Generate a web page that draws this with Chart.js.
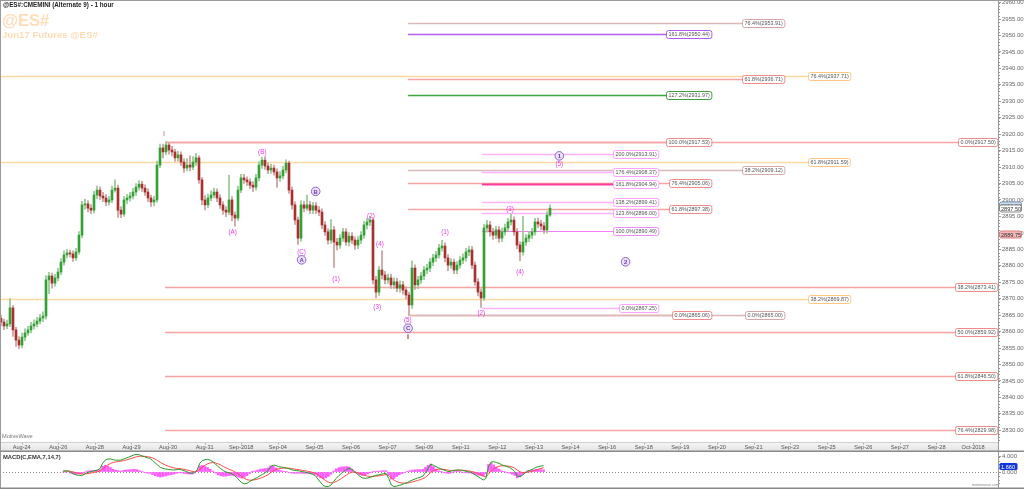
<!DOCTYPE html>
<html><head><meta charset="utf-8">
<script src="https://cdn.jsdelivr.net/npm/chart.js@4.4.0/dist/chart.umd.min.js"></script>
<style>
html,body{margin:0;padding:0;background:#fff;overflow:hidden;}
#wrap{position:relative;width:1024px;height:489px;}
#c1{position:absolute;left:0;top:0;}
#c2{position:absolute;left:0;top:452px;}
.t{position:absolute;white-space:nowrap;font-family:"Liberation Sans",Arial,sans-serif;line-height:1;}
</style></head><body>
<div id="wrap">
<canvas id="c1" width="1024" height="452"></canvas>
<canvas id="c2" width="1024" height="37"></canvas>
<div class="t" style="left:3px;top:2px;font-weight:bold;font-size:6.3px;color:#222">@ES#:CMEMINI (Alternate 9) - 1 hour</div>
<div class="t" style="left:2px;top:12px;font-weight:bold;font-size:16.5px;color:#ffdcb6">@ES#</div>
<div class="t" style="left:2px;top:30px;font-weight:bold;font-size:9.6px;color:#ffdcb6">Jun17 Futures @ES#</div>
<div class="t" style="left:2px;top:434px;font-size:5.6px;color:#777">MotiveWave</div>
<div class="t" style="left:3px;top:455px;font-weight:bold;font-size:5.8px;color:#333">MACD(C,EMA,7,14,7)</div>
<div class="t" style="left:972px;top:484px;font-size:3.6px;color:#888">motivewave.com</div>
</div>
<script>
// ---------------- DATA ----------------
const dateLabels = ["Aug-24","Aug-26","Aug-28","Aug-29","Aug-30","Aug-31","Sep-2018","Sep-04","Sep-05","Sep-06","Sep-07","Sep-09","Sep-11","Sep-12","Sep-13","Sep-14","Sep-16","Sep-18","Sep-19","Sep-20","Sep-21","Sep-23","Sep-25","Sep-26","Sep-27","Sep-28","Oct-2018"];
const sessionStart = 6.9;      // bar index of first date label
const barsPerSession = 12.197; // bars between date labels

const firstOpen = 2864.0;
const closes = [2862.9,2861.7,2862.3,2867.2,2860.5,2857.4,2855.9,2858.3,2859.6,2860.5,
2861.7,2862.3,2863.2,2864.1,2864.7,2875.7,2876.9,2874.7,2876.3,2878.1,
2881.1,2883.3,2883.9,2883.6,2882.4,2884.2,2889.3,2898.5,2898.8,2897.5,
2896.9,2901.5,2903.0,2901.2,2900.6,2899.4,2900.0,2903.0,2903.6,2896.9,
2895.7,2900.0,2900.6,2901.2,2902.4,2903.9,2904.8,2903.6,2902.4,2900.6,
2899.4,2900.0,2910.6,2915.8,2914.6,2916.7,2915.2,2914.6,2912.8,2913.7,
2911.5,2909.7,2910.6,2910.0,2911.5,2912.8,2906.1,2900.0,2898.5,2900.6,
2901.5,2902.4,2900.6,2898.5,2896.9,2896.3,2900.0,2895.4,2894.5,2903.0,
2906.7,2906.1,2905.5,2904.5,2903.9,2906.7,2910.6,2912.1,2910.3,2909.1,
2909.7,2908.5,2906.7,2907.3,2909.1,2911.2,2903.0,2898.5,2893.9,2888.4,
2898.5,2897.5,2898.5,2896.9,2898.2,2896.9,2896.3,2892.4,2890.3,2887.8,
2890.9,2887.2,2886.3,2888.4,2890.3,2887.2,2889.0,2887.8,2886.3,2887.8,
2889.3,2892.4,2893.3,2893.9,2875.7,2872.0,2878.7,2877.2,2875.7,2876.3,
2874.2,2875.1,2873.2,2874.2,2872.6,2871.1,2868.1,2879.3,2874.2,2875.7,
2876.9,2878.7,2879.3,2881.1,2882.4,2883.3,2885.4,2886.0,2882.4,2880.2,
2881.1,2878.7,2880.2,2881.7,2882.4,2884.2,2884.8,2880.2,2875.1,2872.0,
2870.2,2891.5,2892.4,2890.3,2889.3,2890.9,2888.4,2890.3,2891.5,2893.3,
2893.9,2890.3,2886.3,2884.2,2887.2,2888.4,2889.3,2890.3,2893.3,2892.7,
2892.1,2890.9,2895.4,2897.5];
const highs = [2865.0,2863.8,2863.5,2870.0,2868.0,2861.3,2858.5,2859.5,2860.8,2861.6,
2862.8,2863.6,2864.3,2865.2,2866.0,2877.0,2878.0,2877.8,2877.4,2879.2,
2882.2,2884.5,2885.0,2884.8,2884.5,2885.3,2890.4,2899.6,2900.3,2899.8,
2898.6,2902.6,2904.2,2904.0,2902.3,2901.6,2901.1,2904.2,2906.1,2904.5,
2898.0,2901.1,2901.7,2902.3,2903.5,2905.0,2905.9,2905.7,2904.6,2903.4,
2901.5,2901.2,2911.8,2917.0,2917.0,2917.7,2917.3,2916.3,2915.5,2914.8,
2914.6,2912.5,2912.6,2913.4,2913.2,2914.2,2913.5,2906.8,2901.3,2901.8,
2902.8,2903.6,2903.4,2901.6,2899.5,2898.0,2907.5,2901.0,2896.4,2904.2,
2907.8,2907.8,2907.0,2906.4,2905.6,2907.8,2911.7,2913.0,2913.2,2911.3,
2910.9,2910.6,2909.5,2908.6,2910.2,2912.2,2911.8,2904.0,2899.4,2894.8,
2899.7,2899.6,2901.5,2899.6,2899.3,2899.2,2898.0,2897.3,2893.4,2891.2,
2894.0,2892.0,2888.3,2889.5,2891.4,2891.3,2890.1,2890.1,2888.8,2888.9,
2890.4,2893.5,2894.4,2895.0,2894.6,2876.8,2879.8,2884.5,2878.3,2877.5,
2877.4,2876.3,2876.2,2875.4,2875.3,2873.6,2872.0,2881.5,2880.3,2876.8,
2878.0,2879.8,2880.4,2882.2,2883.5,2884.4,2886.5,2887.7,2887.0,2883.4,
2882.2,2882.0,2881.3,2882.8,2883.6,2885.3,2885.9,2885.8,2881.2,2876.1,
2873.0,2892.6,2893.8,2893.5,2891.4,2892.0,2891.9,2891.5,2892.7,2894.4,
2895.8,2894.9,2891.3,2887.3,2895.0,2889.5,2890.4,2891.4,2894.4,2894.5,
2893.8,2893.2,2896.5,2898.5];
const lows = [2861.8,2860.6,2860.8,2861.5,2858.5,2855.5,2854.8,2855.0,2857.2,2858.8,
2859.6,2860.8,2861.4,2862.3,2863.0,2863.8,2871.5,2873.2,2873.8,2875.4,
2877.3,2880.2,2882.4,2882.6,2881.3,2881.6,2883.5,2888.5,2897.2,2896.4,
2895.8,2896.0,2900.4,2900.2,2899.5,2898.3,2898.4,2899.2,2902.4,2894.7,
2894.6,2895.0,2898.9,2899.6,2900.3,2901.4,2903.0,2902.6,2901.4,2899.5,
2898.0,2898.2,2899.3,2909.8,2912.8,2913.8,2913.9,2913.4,2911.7,2911.8,
2910.4,2908.4,2908.8,2908.8,2909.2,2910.5,2905.0,2898.6,2897.0,2897.6,
2899.8,2900.6,2899.5,2897.4,2895.6,2894.9,2895.5,2893.6,2892.0,2893.8,
2902.2,2905.0,2904.4,2903.4,2902.5,2903.0,2905.8,2909.6,2909.3,2908.0,
2908.1,2907.5,2903.8,2905.6,2906.4,2908.2,2902.0,2897.2,2892.6,2886.5,
2887.5,2896.4,2896.8,2895.8,2895.8,2895.8,2895.2,2891.3,2889.2,2886.6,
2886.8,2879.5,2884.8,2885.3,2887.4,2886.2,2886.0,2886.7,2885.0,2885.2,
2886.7,2888.3,2891.2,2892.2,2874.5,2870.2,2871.0,2876.0,2874.5,2874.6,
2873.1,2873.1,2872.1,2872.0,2871.4,2869.9,2865.1,2867.0,2872.8,2873.0,
2874.6,2875.8,2877.6,2878.2,2880.0,2881.3,2882.3,2884.4,2881.2,2878.5,
2879.2,2877.6,2877.6,2879.3,2880.6,2881.4,2883.1,2879.1,2874.0,2870.8,
2867.3,2869.5,2890.2,2889.0,2888.0,2888.2,2887.2,2887.3,2889.3,2890.5,
2892.3,2889.2,2885.2,2881.5,2883.2,2886.2,2887.3,2888.2,2889.3,2891.6,
2891.0,2889.8,2890.0,2895.0];

// MACD line values (one per bar)
const macdValues = [0.26,0.26,0.26,-0.17,-0.52,-0.78,-0.87,-0.96,-0.6,-0.17,
0.0,0.17,0.35,0.52,0.87,2.27,3.1,3.4,3.4,3.2,
3.1,3.1,3.1,3.4,3.66,3.9,4.2,4.5,4.6,4.5,
4.2,4.0,3.7,3.6,3.0,2.4,1.8,1.2,0.96,0.78,
0.7,0.6,0.52,0.6,0.7,0.6,0.35,0.09,-0.17,-0.35,
-0.17,0.52,2.27,3.0,3.2,3.3,3.1,2.7,2.1,1.4,
0.87,0.35,0.0,-0.17,-0.35,-0.78,-1.4,-2.1,-2.8,-3.1,
-2.96,-2.5,-2.1,-1.74,-1.4,-0.96,-0.6,-0.17,0.35,1.4,
1.8,1.7,1.4,1.3,1.2,1.05,0.87,0.6,0.44,0.35,
0.26,0.09,0.0,-0.17,-0.35,-0.6,-0.96,-1.83,-2.7,-3.5,
-3.8,-3.8,-3.4,-2.5,-1.65,-0.96,-0.35,0.17,0.7,0.96,
0.7,0.09,-0.52,-1.13,-1.57,-1.65,-1.57,-1.4,-1.13,-0.87,
-0.78,-0.6,-0.43,-0.35,-1.65,-3.4,-3.8,-3.7,-3.5,-3.3,
-3.0,-2.8,-2.4,-2.1,-1.83,-1.57,-1.4,-1.05,-0.17,0.96,
2.0,1.8,1.4,1.05,0.78,0.52,0.26,0.09,0.26,0.44,
0.52,0.52,0.44,0.26,0.09,0.0,-0.35,-0.78,-1.2,-1.65,
-2.1,-1.65,1.4,2.6,2.7,2.5,2.27,1.9,1.66,1.4,
1.22,0.7,0.09,-1.05,-1.2,-0.78,-0.17,0.26,0.52,0.78,
1.22,1.4,1.57,1.66];
const signalPeriod = 7;

// Fibonacci levels
const fibValues = [2953.91,2950.44,2937.71,2936.71,2931.97,2917.53,2917.50,2913.91,2911.59,2909.12,2908.37,2905.06,2904.94,2899.41,2897.38,2896.00,2890.49,2873.41,2869.87,2867.25,2865.06,2865.00,2859.92,2846.50,2829.98];
const fibPct    = ["76.4%","161.8%","76.4%","61.8%","127.2%","100.0%","0.0%","200.0%","61.8%","38.2%","176.4%","76.4%","161.8%","138.2%","61.8%","123.6%","100.0%","38.2%","38.2%","0.0%","0.0%","0.0%","50.0%","61.8%","76.4%"];
const fibFrom   = ["C","C","start","C","C","I","I","W2","start","C","W2","C","W2","W2","C","W2","W2","I","start","W2","C","C","I","I","I"];
const fibTo     = ["c3","c2","c4","c3","c2","c2","edge","c1","c4","c3","c1","c2","c1","c1","c2","c1","c1","edge","c4","c1","c2","c3","edge","edge","edge"];
const fibKind   = ["rosy","purple","orange","red","green","red","red","pink","orange","rosy","pink","red","hot","pink","red","pink","magenta","red","orange","pink","red","rosy","red","red","red"];
// time anchors (bar index)
const anchors = {start:-0.3333, I:54.7, C:135.7, W2:160.3};
const columns = {c1:219.0, c2:236.7, c3:261.1, c4:283.0, edge:332.3333};

// Wave labels
const waveText  = ["i","(B)","(A)","(C)","A","B","(1)","(2)","(4)","(3)","(5)","C","ii","(1)","(2)","(3)","(4)","1","(5)","2"];
const waveBar   = [54.3,87.1,77.2,100.2,100.2,104.9,111.7,123.3,126.3,125.4,135.6,135.7,135.7,148.0,160.1,169.7,173.0,186.1,186.1,208.2];
const wavePrice = [2920.0,2914.6,2890.3,2884.0,2881.8,2902.6,2876.0,2894.9,2886.6,2867.4,2863.3,2861.0,2858.4,2890.3,2865.5,2897.3,2878.0,2913.4,2910.8,2881.2];
const waveKind  = ["roman","paren","paren","paren","circ","circ","paren","paren","paren","paren","paren","circ","roman","paren","paren","paren","paren","circ","paren","circ"];

const priceMarkers = [2898.50, 2889.75];
const yTicks = [];
for (let v = 2830; v <= 2960; v += 5) yTicks.push(v);

// ---------------- STYLES ----------------
const X_MIN = -0.3333, X_MAX = 332.3333;
const Y_MIN = 2826.43, Y_MAX = 2960.78;
const fibStyle = {
  red:{line:'#f7a3a3',box:'#f08a8a',w:1.5},
  rosy:{line:'#dcb8b8',box:'#d4a8a8',w:1.5},
  orange:{line:'#ffd9a3',box:'#ffc880',w:1.5},
  pink:{line:'#ffb3ff',box:'#ffa0ff',w:1.5},
  magenta:{line:'#f47ef4',box:'#f08cf0',w:1.2},
  hot:{line:'#ff3c9c',box:'#ffa0ff',w:2},
  purple:{line:'#b65cf2',box:'#b05ceb',w:1.5},
  green:{line:'#3fa53f',box:'#3f9f3f',w:1.5}
};
const FONT = '"Liberation Sans", Arial, sans-serif';

const opens = closes.map((c, i) => i === 0 ? firstOpen : closes[i - 1]);
const up = closes.map((c, i) => c >= opens[i]);

// ---------------- MAIN PLUGIN ----------------
const mainDeco = {
  id: 'mainDeco',
  beforeDraw(chart) {
    const {ctx, chartArea: a} = chart;
    ctx.save();
    const g = ctx.createLinearGradient(0, a.bottom, 0, a.bottom + 10);
    g.addColorStop(0, '#f6f6f6'); g.addColorStop(1, '#e2e2e2');
    ctx.fillStyle = g;
    ctx.fillRect(a.left, a.bottom, a.right - a.left, 10);
    ctx.strokeStyle = '#d0d0d0'; ctx.lineWidth = 1;
    ctx.beginPath(); ctx.moveTo(a.left, a.bottom + 0.5); ctx.lineTo(a.right, a.bottom + 0.5); ctx.stroke();
    ctx.restore();
  },
  beforeDatasetsDraw(chart) {
    const {ctx, chartArea: a, scales: {x, y}} = chart;
    ctx.save();
    ctx.beginPath(); ctx.rect(a.left, a.top, a.right - a.left, a.bottom - a.top); ctx.clip();
    fibValues.forEach((v, i) => {
      const st = fibStyle[fibKind[i]];
      const py = Math.round(y.getPixelForValue(v)) + 0.5;
      const x0 = x.getPixelForValue(anchors[fibFrom[i]]);
      const x1 = x.getPixelForValue(columns[fibTo[i]]);
      ctx.strokeStyle = st.line; ctx.lineWidth = st.w;
      ctx.beginPath(); ctx.moveTo(x0, py); ctx.lineTo(x1, py); ctx.stroke();
    });
    ctx.restore();
  },
  afterDatasetsDraw(chart) {
    const {ctx, chartArea: a, scales: {x, y}} = chart;
    ctx.save();
    // fib label boxes
    ctx.font = '5.4px ' + FONT;
    ctx.textBaseline = 'middle';
    fibValues.forEach((v, i) => {
      const st = fibStyle[fibKind[i]];
      const txt = fibPct[i] + '(' + v.toFixed(2) + ')';
      const py = Math.round(y.getPixelForValue(v)) + 0.5;
      let xr = x.getPixelForValue(columns[fibTo[i]]);
      if (xr > a.right - 1) xr = a.right - 1;
      const w = ctx.measureText(txt).width + 4;
      const bx = Math.round(xr - w) + 0.5;
      ctx.beginPath();
      ctx.roundRect(bx, py - 4, w, 8, 2);
      ctx.fillStyle = '#fff'; ctx.fill();
      ctx.strokeStyle = st.box; ctx.lineWidth = 1; ctx.stroke();
      ctx.fillStyle = '#555';
      ctx.textAlign = 'left';
      ctx.fillText(txt, bx + 2, py + 0.5);
    });
    // wave labels
    ctx.textAlign = 'center';
    waveText.forEach((t, i) => {
      const px = x.getPixelForValue(waveBar[i]);
      const py = y.getPixelForValue(wavePrice[i]);
      const k = waveKind[i];
      if (k === 'circ') {
        ctx.beginPath(); ctx.arc(px, py, 4.3, 0, Math.PI * 2);
        ctx.fillStyle = '#ece3f9'; ctx.fill();
        ctx.strokeStyle = '#8e62cc'; ctx.lineWidth = 1; ctx.stroke();
        ctx.fillStyle = '#6a3aa8'; ctx.font = 'bold 6px ' + FONT;
        ctx.fillText(t, px, py + 0.5);
      } else if (k === 'roman') {
        ctx.fillStyle = '#b23a3a'; ctx.font = '6.5px ' + FONT;
        ctx.fillText(t, px, py);
      } else {
        ctx.fillStyle = '#ee3cee'; ctx.font = '6.3px ' + FONT;
        ctx.fillText(t, px, py);
      }
    });
    ctx.restore();
  },
  afterDraw(chart) {
    const {ctx, chartArea: a, scales: {x, y}, width, height} = chart;
    ctx.save();
    // minor ticks on price axis
    ctx.strokeStyle = '#999'; ctx.lineWidth = 1;
    ctx.beginPath();
    for (let v = Math.ceil(Y_MIN); v <= Y_MAX; v++) {
      const py = Math.round(y.getPixelForValue(v)) + 0.5;
      ctx.moveTo(a.right, py); ctx.lineTo(a.right + 2, py);
    }
    ctx.stroke();
    // x-axis tick marks and date labels
    ctx.strokeStyle = '#aaa';
    ctx.beginPath();
    dateLabels.forEach((d, k) => {
      const px = Math.round(x.getPixelForValue(sessionStart + k * barsPerSession)) + 0.5;
      ctx.moveTo(px, a.bottom + 1); ctx.lineTo(px, a.bottom + 2.5);
    });
    ctx.stroke();
    ctx.fillStyle = '#555'; ctx.font = '5.6px ' + FONT;
    ctx.textAlign = 'center'; ctx.textBaseline = 'middle';
    dateLabels.forEach((d, k) => {
      const px = x.getPixelForValue(sessionStart + k * barsPerSession);
      ctx.fillText(d, px, a.bottom + 5.8);
    });
    // frame
    ctx.strokeStyle = '#9a9a9a'; ctx.lineWidth = 1;
    ctx.beginPath();
    ctx.moveTo(0, 0.5); ctx.lineTo(width, 0.5);
    ctx.moveTo(0.5, 0); ctx.lineTo(0.5, height);
    ctx.moveTo(a.right + 0.5, 0); ctx.lineTo(a.right + 0.5, height);
    ctx.stroke();
    ctx.strokeStyle = '#8a8a8a'; ctx.lineWidth = 1.5;
    ctx.beginPath(); ctx.moveTo(0, height - 0.75); ctx.lineTo(width, height - 0.75); ctx.stroke();
    // price markers
    ctx.font = '5.6px ' + FONT; ctx.textBaseline = 'middle'; ctx.textAlign = 'left';
    const mk = [
      {v: priceMarkers[0], fill: '#cddff0', stroke: '#7895b5', col: '#445'},
      {v: closes[closes.length - 1], fill: '#ffffff', stroke: '#888', col: '#333'},
      {v: priceMarkers[1], fill: '#f4b8b8', stroke: '#e08080', col: '#333'}
    ];
    mk.forEach(m => {
      const py = Math.round(y.getPixelForValue(m.v)) + 0.5;
      ctx.beginPath(); ctx.roundRect(a.right + 1.5, py - 3.5, 22, 7, 2);
      ctx.fillStyle = m.fill; ctx.fill();
      ctx.strokeStyle = m.stroke; ctx.lineWidth = 1; ctx.stroke();
      ctx.fillStyle = m.col; ctx.fillText(m.v.toFixed(2), a.right + 3, py + 0.5);
    });
    ctx.restore();
  }
};

function fitY(w) {
  return function (s) { s.width = w; s.paddingTop = 0; s.paddingBottom = 0; };
}

new Chart(document.getElementById('c1'), {
  type: 'bar',
  data: {
    datasets: [
      {
        label: 'bodies',
        data: closes.map((c, i) => ({x: i, y: [opens[i], c]})),
        backgroundColor: up.map(u => u ? '#35a035' : '#a8302e'),
        borderWidth: 0, barThickness: 2, minBarLength: 1, grouped: false, order: 1
      },
      {
        label: 'wicks',
        data: highs.map((h, i) => ({x: i, y: [lows[i], h]})),
        backgroundColor: up.map(u => u ? '#92c892' : '#c99a9a'),
        borderWidth: 0, barThickness: 1, grouped: false, order: 2
      }
    ]
  },
  options: {
    responsive: false, animation: false, events: [],
    layout: {padding: 0},
    plugins: {legend: {display: false}, tooltip: {enabled: false}},
    scales: {
      x: {
        type: 'linear', min: X_MIN, max: X_MAX, offset: false,
        grid: {display: false}, border: {display: false},
        afterFit: s => { s.height = 10; s.paddingLeft = 0; s.paddingRight = 0; },
        ticks: {display: false}
      },
      y: {
        type: 'linear', position: 'right', min: Y_MIN, max: Y_MAX,
        afterBuildTicks: s => { s.ticks = yTicks.map(v => ({value: v})); },
        afterFit: fitY(26),
        grid: {drawOnChartArea: false, drawTicks: true, tickLength: 3, color: '#999'},
        border: {display: true, color: '#9a9a9a'},
        ticks: {padding: 1, color: '#666', font: {size: 6, family: FONT}, callback: v => v.toFixed(2)}
      }
    }
  },
  plugins: [mainDeco]
});

// ---------------- MACD ----------------
function ema(arr, n) {
  const k = 2 / (n + 1); const out = []; let e = arr[0];
  arr.forEach((v, i) => { e = i === 0 ? v : v * k + e * (1 - k); out.push(e); });
  return out;
}
const macd = macdValues;
const signal = ema(macd, signalPeriod);
const hist = macd.map((m, i) => m - signal[i]);

const macdDeco = {
  id: 'macdDeco',
  beforeDatasetsDraw(chart) {
    const {ctx, chartArea: a, scales: {y}} = chart;
    ctx.save();
    const py = Math.round(y.getPixelForValue(0)) + 0.5;
    ctx.strokeStyle = '#8a8a8a'; ctx.lineWidth = 1; ctx.setLineDash([1, 2]);
    ctx.beginPath(); ctx.moveTo(a.left, py); ctx.lineTo(a.right, py); ctx.stroke();
    ctx.restore();
  },
  afterDraw(chart) {
    const {ctx, chartArea: a, scales: {y}, width, height} = chart;
    ctx.save();
    ctx.strokeStyle = '#9a9a9a'; ctx.lineWidth = 1;
    ctx.beginPath();
    ctx.moveTo(0.5, 0); ctx.lineTo(0.5, height);
    ctx.moveTo(a.right + 0.5, 0); ctx.lineTo(a.right + 0.5, height);
    ctx.stroke();
    ctx.strokeStyle = '#888'; ctx.lineWidth = 1.5;
    ctx.beginPath(); ctx.moveTo(0, height - 0.75); ctx.lineTo(width, height - 0.75); ctx.stroke();
    ctx.strokeStyle = '#999'; ctx.lineWidth = 1;
    ctx.beginPath();
    for (let v = -3; v <= 4; v++) {
      const py = Math.round(y.getPixelForValue(v)) + 0.5;
      ctx.moveTo(a.right, py); ctx.lineTo(a.right + 2, py);
    }
    ctx.stroke();
    const last = macd[macd.length - 1];
    const py = Math.round(y.getPixelForValue(last)) + 0.5;
    ctx.beginPath(); ctx.roundRect(a.right + 1.5, py - 3.5, 18, 7, 1.5);
    ctx.fillStyle = '#1238d8'; ctx.fill();
    ctx.fillStyle = '#fff'; ctx.font = '5.6px ' + FONT; ctx.textBaseline = 'middle';
    ctx.fillText(last.toFixed(3), a.right + 3, py + 0.5);
    ctx.restore();
  }
};

new Chart(document.getElementById('c2'), {
  type: 'bar',
  data: {
    datasets: [
      {type: 'line', data: macd.map((v, i) => ({x: i, y: v})), borderColor: '#259a25', borderWidth: 1, pointRadius: 0, tension: 0, order: 1},
      {type: 'line', data: signal.map((v, i) => ({x: i, y: v})), borderColor: '#ff4a4a', borderWidth: 1, pointRadius: 0, tension: 0, order: 2},
      {type: 'bar', data: hist.map((v, i) => ({x: i, y: v})), backgroundColor: '#ff5cff', borderWidth: 0, barThickness: 2, grouped: false, order: 3}
    ]
  },
  options: {
    responsive: false, animation: false, events: [],
    layout: {padding: {top: 1, bottom: 2, left: 0, right: 0}},
    plugins: {legend: {display: false}, tooltip: {enabled: false}},
    scales: {
      x: {type: 'linear', min: X_MIN, max: X_MAX, display: false},
      y: {
        type: 'linear', position: 'right', min: -3.92, max: 4.97,
        afterBuildTicks: s => { s.ticks = [{value: 4}, {value: 0}]; },
        afterFit: fitY(26),
        grid: {drawOnChartArea: false, drawTicks: true, tickLength: 3, color: '#999'},
        border: {display: true, color: '#9a9a9a'},
        ticks: {padding: 1, color: '#666', font: {size: 6, family: FONT}, callback: v => v.toFixed(3)}
      }
    }
  },
  plugins: [macdDeco]
});
</script>
</body></html>
